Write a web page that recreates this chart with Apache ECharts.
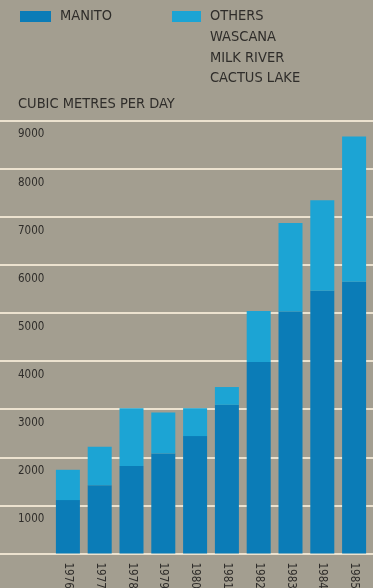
<!DOCTYPE html>
<html>
<head>
<meta charset="utf-8">
<script src="https://cdn.jsdelivr.net/npm/echarts@6/dist/echarts.min.js"></script>
<style>
html,body{margin:0;padding:0;background:#a39e90;}
#c{width:373px;height:588px;}
</style>
</head>
<body>
<div id="c"></div>
<script>
const years = ['1976','1977','1978','1979','1980','1981','1982','1983','1984','1985'];
const manito = [1110, 1420, 1820, 2080, 2440, 3090, 3980, 5030, 5460, 5650];
const others = [630, 800, 1200, 850, 580, 370, 1060, 1840, 1880, 3020];
const yTicks = [0,1000,2000,3000,4000,5000,6000,7000,8000,9000];
const othersSub = ['WASCANA','MILK RIVER','CACTUS LAKE'];
const unitLabel = 'CUBIC METRES PER DAY';

const FONT = '"DejaVu Sans Condensed","Liberation Sans Narrow",sans-serif';
const TXT = '#2f2d2a';
const DARK = '#0b7cb7';
const LIGHT = '#1ca4d4';

const chart = echarts.init(document.getElementById('c'), null, {renderer:'canvas'});
chart.setOption({
  backgroundColor: '#a39e90',
  animation: false,
  textStyle: {fontFamily: FONT},
  legend: [
    {data:['MANITO'], left:20, top:9, padding:0, icon:'rect', itemWidth:31, itemHeight:11,
     textStyle:{fontFamily:FONT, fontSize:14.5, color:TXT, padding:[0,0,0,4]}},
    {data:['OTHERS'], left:172, top:9, padding:0, icon:'rect', itemWidth:29, itemHeight:11,
     textStyle:{fontFamily:FONT, fontSize:14.5, color:TXT, padding:[0,0,0,4]}}
  ],
  graphic: [
    {type:'text', left:210, top:27, style:{text: othersSub.join('\n'), font:'14.5px '+FONT, fill:TXT, lineHeight:20.5}},
    {type:'text', left:18, top:97, style:{text: unitLabel, font:'14.5px '+FONT, fill:TXT}}
  ],
  grid: [
    {left:0, right:0, top:120.5, bottom:34.5, outerBoundsMode:'none', containLabel:false},
    {left:52, right:3, top:120.5, bottom:34.5, outerBoundsMode:'none', containLabel:false}
  ],
  xAxis: [
    {gridIndex:0, type:'value', min:0, max:1, show:false},
    {gridIndex:1, type:'category', data:years,
     axisLine:{show:false}, axisTick:{show:false},
     axisLabel:{rotate:-90, margin:9, fontFamily:FONT, fontSize:11.5, color:TXT}}
  ],
  yAxis: [
    {gridIndex:0, type:'value', min:0, max:9000, interval:1000,
     axisLine:{show:false}, axisTick:{show:false},
     splitLine:{show:true, lineStyle:{color:'#ece2cf', width:2}},
     axisLabel:{inside:true, margin:18, align:'left', verticalAlign:'top', padding:[8,0,0,0],
       fontFamily:FONT, fontSize:11.5, color:TXT,
       formatter: v => (v === yTicks[0] ? '' : String(v))}},
    {gridIndex:1, type:'value', min:0, max:9000, interval:1000, show:false, splitLine:{show:false}}
  ],
  series: [
    {name:'MANITO', type:'bar', stack:'t', xAxisIndex:1, yAxisIndex:1, data:manito, barWidth:24,
     itemStyle:{color:DARK}},
    {name:'OTHERS', type:'bar', stack:'t', xAxisIndex:1, yAxisIndex:1, data:others, barWidth:24,
     itemStyle:{color:LIGHT}}
  ]
});
</script>
</body>
</html>
